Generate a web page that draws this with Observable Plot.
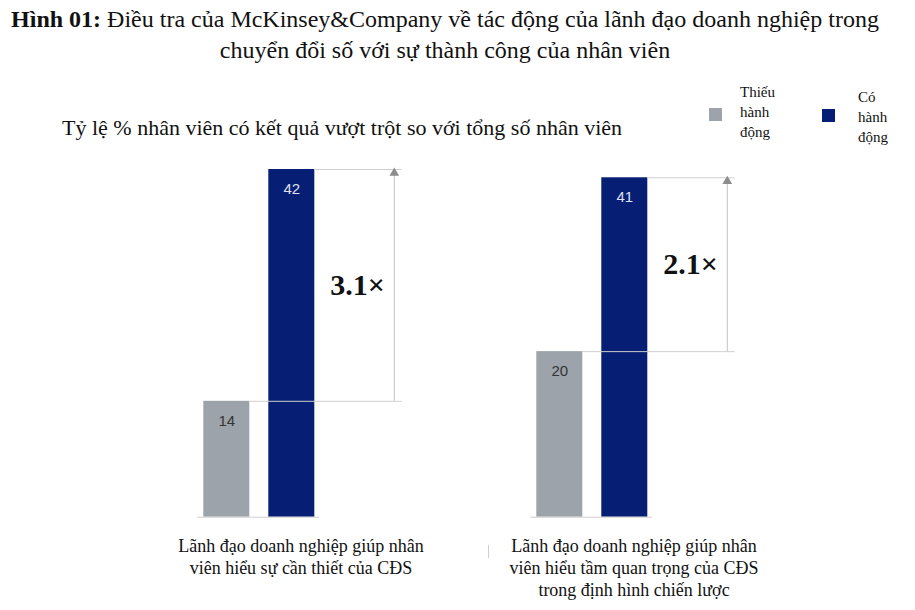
<!DOCTYPE html>
<html>
<head>
<meta charset="utf-8">
<script src="https://cdn.jsdelivr.net/npm/d3@7"></script>
<script src="https://cdn.jsdelivr.net/npm/@observablehq/plot@0.6"></script>
<style>
  html, body { margin: 0; padding: 0; background: #fff; }
  #wrap { position: relative; width: 915px; height: 610px; overflow: hidden; font-family: "Liberation Serif", "Times New Roman", serif; color: #111; }
  #title { position: absolute; left: 0; top: 4px; width: 890px; text-align: center; font-size: 24px; line-height: 31px; }
  #subtitle { position: absolute; left: 62px; top: 114px; font-size: 22px; line-height: 28px; white-space: nowrap; }
  .leg { position: absolute; font-size: 15px; line-height: 20px; }
  .sw { position: absolute; width: 13px; height: 13px; }
  #chart { position: absolute; left: 0; top: 0; }
  #tick { position: absolute; left: 488px; top: 545px; width: 1px; height: 13px; background: #cfcfcf; }
</style>
</head>
<body>
<div id="wrap">
  <div id="chart"></div>
  <div id="title"></div>
  <div id="subtitle"></div>
  <div id="legend"></div>
  <div id="tick"></div>
</div>
<script>
// ---- data ----
const titleBold = "Hình 01:";
const titleRest = " Điều tra của McKinsey&Company về tác động của lãnh đạo doanh nghiệp trong chuyển đổi số với sự thành công của nhân viên";
const subtitle = "Tỷ lệ % nhân viên có kết quả vượt trột so với tổng số nhân viên";
const groups = [
  "Lãnh đạo doanh nghiệp giúp nhân\nviên hiểu sự cần thiết của CĐS",
  "Lãnh đạo doanh nghiệp giúp nhân\nviên hiểu tầm quan trọng của CĐS\ntrong định hình chiến lược"
];
const series = ["Thiếu hành động", "Có hành động"];
const lackValues = [14, 20];
const actValues = [42, 41];
const multipliers = ["3.1×", "2.1×"];
const colors = ["#9ca3aa", "#061e73"];

// ---- text blocks ----
document.getElementById("title").innerHTML =
  "<b>" + titleBold + "</b>" + titleRest.replace(" trong ", " trong<br>");
document.getElementById("subtitle").textContent = subtitle;

const legend = document.getElementById("legend");
const legPos = [{sx: 709, sy: 108, tx: 740, ty: 82}, {sx: 822, sy: 109, tx: 858, ty: 87}];
series.forEach((s, i) => {
  const sw = document.createElement("div");
  sw.className = "sw";
  sw.style.left = legPos[i].sx + "px";
  sw.style.top = legPos[i].sy + "px";
  sw.style.background = colors[i];
  legend.appendChild(sw);
  const t = document.createElement("div");
  t.className = "leg";
  t.style.left = legPos[i].tx + "px";
  t.style.top = legPos[i].ty + "px";
  t.innerHTML = s.split(" ").join("<br>");
  legend.appendChild(t);
});

// ---- tables for Plot ----
const bars = [];
groups.forEach((g, i) => {
  bars.push({group: g, series: series[0], value: lackValues[i]});
  bars.push({group: g, series: series[1], value: actValues[i]});
});
const ann = groups.map((g, i) => ({group: g, lo: lackValues[i], hi: actValues[i], mult: multipliers[i]}));

const lineColor = "#cfcfcf";

const plot = Plot.plot({
  width: 915,
  height: 610,
  marginLeft: 202.7,
  marginRight: 268,
  marginTop: 169,
  marginBottom: 93.3,
  fx: {domain: groups, paddingInner: 0.666, paddingOuter: 0, axis: null},
  x: {domain: series, paddingInner: 0.3, paddingOuter: 0, axis: null},
  y: {domain: [0, 42], axis: null},
  color: {domain: series, range: colors},
  style: {background: "transparent", overflow: "visible"},
  marks: [
    Plot.barY(bars, {fx: "group", x: "series", y: "value", fill: "series"}),
    // baseline
    Plot.ruleY(ann, {fx: "group", y: d => 0, stroke: lineColor, insetLeft: -5.7, insetRight: -5}),
    // lower reference line
    Plot.ruleY(ann, {fx: "group", y: "lo", stroke: lineColor, insetLeft: 45.6, insetRight: -87.5}),
    // upper reference line
    Plot.ruleY(ann, {fx: "group", y: "hi", stroke: lineColor, insetLeft: 111, insetRight: -87.5}),
    // arrow shaft
    Plot.ruleX(ann, {fx: "group", x: d => series[1], y1: "lo", y2: "hi", dx: 102.5, stroke: "#c4c4c4"}),
    // arrow head
    Plot.dot(ann, {fx: "group", x: d => series[1], y: "hi", dx: 102.5, dy: 3.5, symbol: "triangle", r: 3.6, fill: "#8c8c8c", stroke: "none"}),
    // multiplier labels
    Plot.text(ann, {fx: "group", x: d => series[1], y: d => (d.lo + d.hi) / 2, text: "mult", dx: 38.5, textAnchor: "start",
      fontFamily: "Liberation Serif", fontWeight: "bold", fontSize: 30, fill: "#111"}),
    // value labels
    Plot.text(bars.filter(d => d.series === series[0]), {fx: "group", x: "series", y: "value", text: d => String(d.value), dy: 19.5,
      fontFamily: "Liberation Sans", fontSize: 15, fill: "#333"}),
    Plot.text(bars.filter(d => d.series === series[1]), {fx: "group", x: "series", y: "value", text: d => String(d.value), dy: 19.5,
      fontFamily: "Liberation Sans", fontSize: 15, fill: "#dfe2ec"}),
    // group captions
    Plot.text(ann, {fx: "group", y: d => 0, text: "group", dx: 42, dy: 19, lineAnchor: "top", lineHeight: 1.22,
      fontFamily: "Liberation Serif", fontSize: 18, fill: "#111"})
  ]
});
document.getElementById("chart").appendChild(plot);
</script>
</body>
</html>
